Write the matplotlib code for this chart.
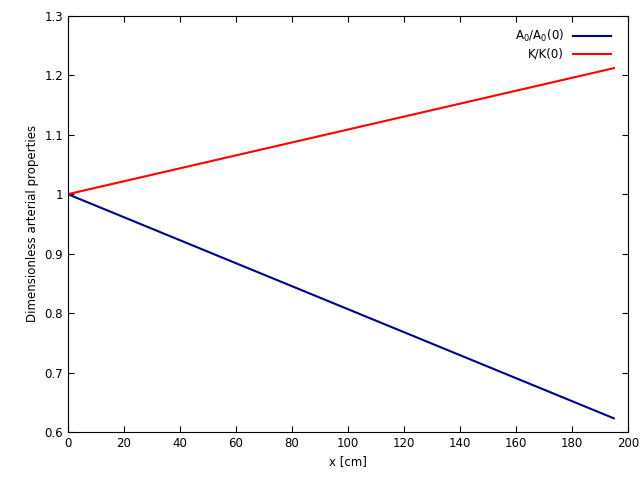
import matplotlib
matplotlib.use("Agg")
import matplotlib.pyplot as plt

x_cm = [0, 195]
area_ratio = [1.0, 0.623]
stiff_ratio = [1.0, 1.212]

plt.rcParams.update({"font.size": 8.5, "font.family": "DejaVu Sans"})
fig = plt.figure(figsize=(6.4, 4.8), dpi=100)
ax = fig.add_axes([0.106, 0.1, 0.875, 0.867])

ax.plot(x_cm, area_ratio, color="#00008b", lw=1.5, label=r"A$_0$/A$_0$(0)")
ax.plot(x_cm, stiff_ratio, color="#ff0000", lw=1.5, label="K/K(0)")

ax.set_xlim(0, 200)
ax.set_ylim(0.6, 1.3)
ax.set_xticks(range(0, 201, 20))
ax.set_yticks([0.6, 0.7, 0.8, 0.9, 1.0, 1.1, 1.2, 1.3])
ax.set_yticklabels(["0.6", "0.7", "0.8", "0.9", "1", "1.1", "1.2", "1.3"])
ax.tick_params(direction="in", top=True, right=True, length=4)
ax.set_xlabel("x [cm]")
ax.set_ylabel("Dimensionless arterial properties")

ax.legend(loc="upper right", frameon=False, markerfirst=False,
          handlelength=3.2, borderaxespad=0.3, labelspacing=0.3,
          bbox_to_anchor=(0.985, 0.99))

fig.savefig("out.png", dpi=100)
